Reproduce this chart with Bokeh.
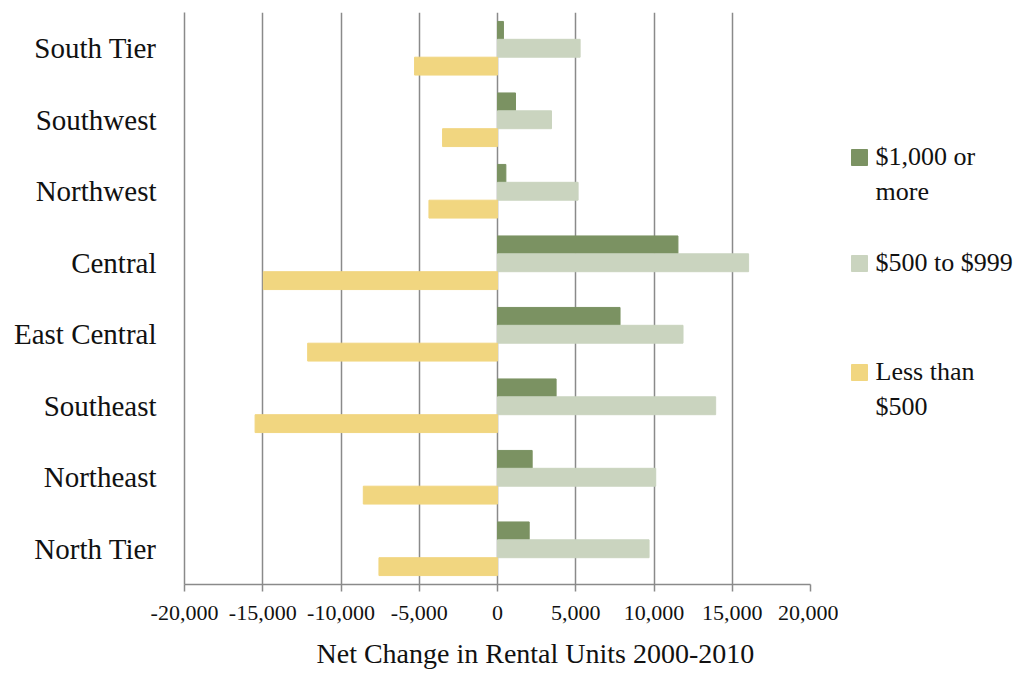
from bokeh.plotting import figure
from bokeh.models import Range1d, FactorRange, FixedTicker, NumeralTickFormatter, Title, ColumnDataSource
from bokeh.transform import dodge
from bokeh.layouts import row
from bokeh.embed import file_html
from bokeh.resources import INLINE
from bokeh.core.properties import value

# ---- data ----
regions = ["South Tier", "Southwest", "Northwest", "Central",
           "East Central", "Southeast", "Northeast", "North Tier"]
high = [380, 1150, 535, 11530, 7830, 3745, 2215, 2025]          # $1,000 or more
mid = [5280, 3450, 5150, 16045, 11855, 13940, 10110, 9685]       # $500 to $999
low = [-5300, -3510, -4380, -14960, -12130, -15490, -8575, -7575]  # Less than $500
series_names = ["$1,000 or\nmore", "$500 to $999", "Less than\n$500"]
x_ticks = [-20000, -15000, -10000, -5000, 0, 5000, 10000, 15000, 20000]
axis_title = "Net Change in Rental Units 2000-2010"

colors = ["#7b9262", "#cad4bf", "#f1d680"]
grid_col = "#8a8a8a"
FONT = "Liberation Serif"
TXT = "#111111"

src = ColumnDataSource(dict(region=regions, high=high, mid=mid, low=low))

p = figure(y_range=FactorRange(factors=list(reversed(regions))),
           x_range=Range1d(-20000, 20000),
           frame_width=626, frame_height=572,
           min_border_left=184, min_border_top=12, min_border_bottom=60, min_border_right=28,
           output_backend="svg", toolbar_location=None)

bh = 0.25
p.hbar(y=dodge("region", bh, range=p.y_range), right="high", left=0, height=bh,
       source=src, color=colors[0])
p.hbar(y=dodge("region", 0, range=p.y_range), right="mid", left=0, height=bh,
       source=src, color=colors[1])
p.hbar(y=dodge("region", -bh, range=p.y_range), right="low", left=0, height=bh,
       source=src, color=colors[2])

p.outline_line_color = None
p.ygrid.grid_line_color = None
p.xgrid.grid_line_color = grid_col
p.xgrid.grid_line_width = 1.5
p.xaxis.ticker = FixedTicker(ticks=x_ticks)
p.xgrid.ticker = FixedTicker(ticks=x_ticks)
p.xaxis.formatter = NumeralTickFormatter(format="0,0")
for ax in (p.xaxis, p.yaxis):
    ax.axis_line_color = grid_col
    ax.axis_line_width = 1.5
    ax.major_label_text_font = FONT
    ax.major_label_text_color = TXT
    ax.minor_tick_line_color = None
p.xaxis.major_tick_line_color = grid_col
p.xaxis.major_tick_line_width = 1.5
p.xaxis.major_tick_out = 7
p.xaxis.major_tick_in = 0
p.xaxis.major_label_standoff = 14
p.xaxis.major_label_text_font_size = "22px"
p.yaxis.major_tick_line_color = None
p.yaxis.major_tick_out = 0
p.yaxis.major_tick_in = 0
p.yaxis.major_label_standoff = 28
p.yaxis.major_label_text_font_size = "29px"

p.add_layout(Title(text=axis_title, align="left", offset=132, standoff=27,
                   text_font=FONT, text_font_size="28px", text_font_style="normal",
                   text_color=TXT), "below")

# ---- legend panel (frame aligned with main frame: page y 12..584) ----
lg = figure(frame_width=177, frame_height=572, x_range=Range1d(0, 177), y_range=Range1d(584, 12),
            x_axis_type=None, y_axis_type=None, output_backend="svg", toolbar_location=None,
            min_border=0)
lg.outline_line_color = None
lg.grid.grid_line_color = None
sq_y = [157, 263, 372]
line_h = 35
tx, ty, tt = [], [], []
for name, y in zip(series_names, sq_y):
    for i, part in enumerate(name.split("\n")):
        tx.append(37)
        ty.append(y - 1 + i * line_h)
        tt.append(part)
lg.rect(x=[21] * 3, y=sq_y, width=16, height=16, color=colors)
lg.text(x=tx, y=ty, text=tt, text_font=value(FONT), text_font_size="26px",
        text_baseline="alphabetic", text_align="left", text_color=TXT)

layout = row(p, lg)
open("out.html", "w").write(file_html(layout, INLINE))
